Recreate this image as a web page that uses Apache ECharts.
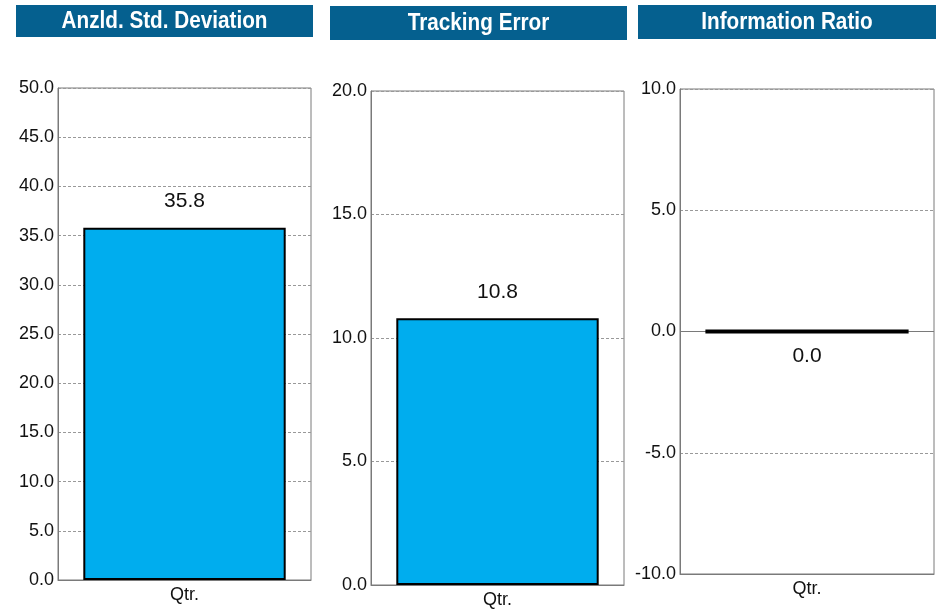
<!DOCTYPE html>
<html>
<head>
<meta charset="utf-8">
<script src="https://cdn.jsdelivr.net/npm/echarts@6/dist/echarts.min.js"></script>
<style>
  html, body { margin: 0; padding: 0; background: #fff; }
  #main { width: 939px; height: 609px; }
</style>
</head>
<body>
<div id="main"></div>
<script>
// chart data
var panelTitles = ['Anzld. Std. Deviation', 'Tracking Error', 'Information Ratio'];
var categories = ['Qtr.'];
var stdDevValues = [35.8];
var trackingValues = [10.8];
var infoRatioValues = [0.0];
var axisMin = [0, 0, -10];
var axisMax = [50, 20, 10];
var axisStep = [5, 5, 5];

var chart = echarts.init(document.getElementById('main'));

var FONT = '"Liberation Sans", Arial, sans-serif';
var BLUE = '#00ADEE';
var TITLE_BG = '#05608F';

// grid boxes, one per panel
var grids = [
  { left: 58, top: 88, width: 253, height: 492 },
  { left: 371, top: 91, width: 253, height: 494 },
  { left: 680, top: 89, width: 254, height: 485 }
];
var titleBoxes = [
  { x: 16, y: 5, w: 297, h: 32 },
  { x: 330, y: 6, w: 297, h: 34 },
  { x: 638, y: 5, w: 298, h: 34 }
];
var seriesData = [stdDevValues, trackingValues, infoRatioValues];

var graphic = [];
titleBoxes.forEach(function (b, i) {
  graphic.push({
    type: 'rect',
    shape: { x: b.x, y: b.y, width: b.w, height: b.h },
    style: { fill: TITLE_BG }
  });
  // titles are a condensed bold face: squeeze horizontally
  graphic.push({
    type: 'text',
    x: b.x + b.w / 2,
    y: b.y + b.h / 2 + 1,
    scaleX: 0.9,
    style: {
      text: panelTitles[i],
      fill: '#fff',
      font: 'bold 23px ' + FONT,
      align: 'center',
      verticalAlign: 'middle'
    }
  });
});

var option = {
  backgroundColor: '#ffffff',
  animation: false,
  graphic: graphic,
  grid: grids.map(function (g) {
    return {
      left: g.left, top: g.top, width: g.width, height: g.height,
      show: true, borderColor: '#7a7a7a', borderWidth: 1, backgroundColor: 'transparent'
    };
  }),
  xAxis: grids.map(function (g, i) {
    return {
      type: 'category',
      gridIndex: i,
      data: categories,
      axisLine: { onZero: false, lineStyle: { color: '#7a7a7a' } },
      axisTick: { show: false },
      axisLabel: { color: '#111', fontFamily: FONT, fontSize: 18, margin: 6 }
    };
  }),
  yAxis: grids.map(function (g, i) {
    return {
      type: 'value',
      gridIndex: i,
      min: axisMin[i],
      max: axisMax[i],
      interval: axisStep[i],
      axisLine: { show: true, lineStyle: { color: '#7a7a7a' } },
      axisTick: { show: false },
      axisLabel: {
        color: '#111', fontFamily: FONT, fontSize: 18, margin: 4,
        formatter: function (v) { return v.toFixed(1); }
      },
      splitLine: { show: true, lineStyle: { color: '#999', type: [3, 2], width: 1 } }
    };
  }),
  series: seriesData.map(function (d, i) {
    var s = {
      type: 'bar',
      xAxisIndex: i,
      yAxisIndex: i,
      data: d,
      barWidth: '80%',
      itemStyle: { color: BLUE, borderColor: '#000', borderWidth: i === 2 ? 4 : 2 },
      label: {
        show: true,
        position: i === 2 ? 'bottom' : 'top',
        distance: i === 2 ? 12 : 16,
        color: '#111',
        fontFamily: FONT,
        fontSize: 21,
        formatter: function (p) { return p.value.toFixed(1); }
      }
    };
    if (i === 2) {
      s.markLine = {
        silent: true,
        symbol: 'none',
        label: { show: false },
        lineStyle: { color: '#7a7a7a', type: 'solid', width: 1 },
        data: [{ yAxis: 0 }],
        z: 1
      };
    }
    return s;
  })
};

chart.setOption(option);
</script>
</body>
</html>
